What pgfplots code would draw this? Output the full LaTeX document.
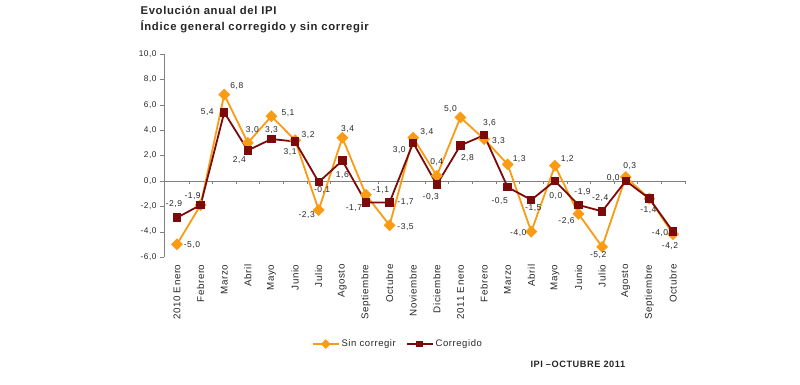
\documentclass[border=0pt]{standalone}
\usepackage{pgfplots}
\pgfplotsset{compat=1.18}
\usepackage{fontspec}
\setmainfont{Liberation Sans}[LetterSpace=6]
\definecolor{cOr}{RGB}{250,155,20}
\definecolor{cRd}{RGB}{125,10,10}
\begin{document}
\begin{tikzpicture}[x=1pt,y=1pt]
\path[use as bounding box] (0,0) rectangle (800,384);
\node[anchor=base west,font=\fontsize{11.3}{13}\selectfont\bfseries,text=black!85] at (137,369.7) {Evolución anual del IPI};
\node[anchor=base west,font=\fontsize{11.3}{13}\selectfont\bfseries,text=black!85] at (137,354) {Índice general corregido y sin corregir};
\node[anchor=base west,font=\fontsize{9.2}{11}\selectfont\bfseries,text=black!85] at (527,16.7) {IPI –OCTUBRE 2011};
\begin{axis}[
  at={(164pt,127pt)}, anchor=south west,
  scale only axis, width=522pt, height=203pt,
  xmin=-0.55, xmax=21.55, ymin=-6, ymax=10,
  axis x line*=bottom, axis y line*=left,
  x axis line style={draw=none},
  y axis line style={gray},
  xtick={0,...,21},
  xticklabels={2010 Enero,Febrero,Marzo,Abril,Mayo,Junio,Julio,Agosto,Septiembre,Octubre,Noviembre,Diciembre,2011 Enero,Febrero,Marzo,Abril,Mayo,Junio,Julio,Agosto,Septiembre,Octubre},
  x tick style={draw=none},
  xticklabel style={rotate=90, anchor=east, font=\fontsize{9.8}{11}\selectfont, text=black!85},
  ytick={-6,-4,...,10},
  y tick style={gray},
  tick align=outside, major tick length=4pt,
  yticklabel style={font=\fontsize{8.3}{9}\selectfont, text=black!85},
  /pgf/number format/.cd, fixed, fixed zerofill, precision=1, use comma, assume math mode=true,
  /pgfplots/.cd,
  clip=false,
  legend columns=2,
  legend style={at={(0.448,-0.429)}, anchor=center, draw=none, fill=none,
    font=\fontsize{9.5}{11}\selectfont, text=black!85,
    /tikz/every even column/.append style={column sep=8pt}},
  legend image code/.code={\draw[mark repeat=2,mark phase=2,mark size=2.5pt] plot coordinates {(0pt,0pt) (13pt,0pt) (26pt,0pt)};},
  nodes near coords,
  point meta=explicit symbolic,
  visualization depends on={\thisrow{dx}\as\dx},
  visualization depends on={\thisrow{dy}\as\dy},
  every node near coord/.append style={anchor=center, xshift=\dx pt, yshift=\dy pt,
    font=\fontsize{8.5}{9}\selectfont, text=black!85, inner sep=0pt},
]
\pgfplotsinvokeforeach{0.5,1.5,...,21.5}{\draw[gray] (axis cs:#1,0) -- ([yshift=-3pt]axis cs:#1,0);}
\draw[gray] (axis cs:-0.55,0) -- (axis cs:21.55,0);
\addplot[color=cOr, line width=1.8pt, mark=square*, mark size=3.3pt, mark options={rotate=45}]
  table[x=x, y=y, meta=lab] {
x y lab dx dy
0 -5.0 {-5,0} 15 -1
1 -1.9 {} 0 0
2 6.8 {6,8} 12.6 8.7
3 3.0 {3,0} 4.5 13
4 5.1 {5,1} 16.5 3
5 3.2 {3,2} 13 5
6 -2.3 {-2,3} -12 -5
7 3.4 {3,4} 5.3 9
8 -1.1 {-1,1} 15 5
9 -3.5 {-3,5} 16 -2
10 3.4 {3,4} 13.7 6
11 0.4 {0,4} 0 14
12 5.0 {5,0} -10 8.6
13 3.3 {3,3} 14.5 -2
14 1.3 {1,3} 11.5 5.5
15 -4.0 {-4,0} -13 -1
16 1.2 {1,2} 12.4 7
17 -2.6 {-2,6} -12 -7
18 -5.2 {-5,2} -4 -8
19 0.3 {0,3} 4 11
20 -1.4 {} 0 0
21 -4.2 {-4,2} -3 -12
};
\addlegendentry{Sin corregir}
\addplot[color=cRd, line width=1.8pt, mark=square*, mark size=3.3pt]
  table[x=x, y=y, meta=lab] {
x y lab dx dy
0 -2.9 {-2,9} -3 14
1 -1.9 {-1,9} -8 8.5
2 5.4 {5,4} -17 0.5
3 2.4 {2,4} -8.5 -9.5
4 3.3 {3,3} 0 9
5 3.1 {3,1} -5 -11
6 -0.1 {-0,1} 3.4 -8
7 1.6 {1,6} 0 -14
8 -1.7 {-1,7} -12 -5.5
9 -1.7 {-1,7} 16 0
10 3.0 {3,0} -14 -7
11 -0.3 {-0,3} -6 -12
12 2.8 {2,8} 7 -12.5
13 3.6 {3,6} 5.5 12
14 -0.5 {-0,5} -8 -13.5
15 -1.5 {-1,5} 2 -8
16 0.0 {0,0} 1 -15
17 -1.9 {-1,9} 4 13
18 -2.4 {-2,4} -2 13.5
19 0.0 {0,0} -12.5 3
20 -1.4 {-1,4} -1 -11
21 -4.0 {-4,0} -13 -1
};
\addlegendentry{Corregido}
\end{axis}
\end{tikzpicture}
\end{document}
